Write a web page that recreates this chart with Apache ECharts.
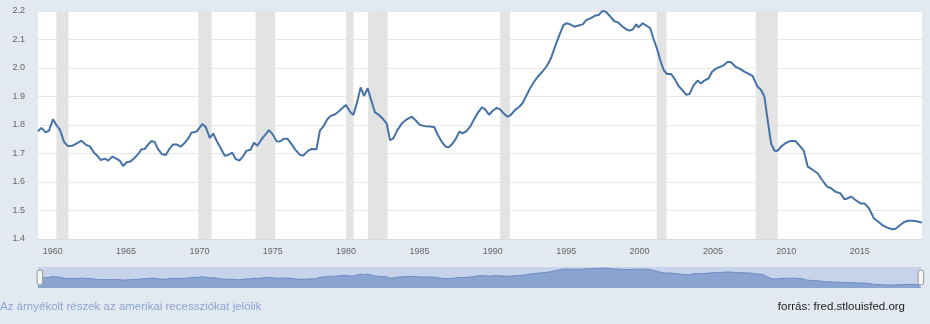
<!DOCTYPE html>
<html>
<head>
<meta charset="utf-8">
<script src="https://cdn.jsdelivr.net/npm/echarts@6/dist/echarts.min.js"></script>
<style>
html,body{margin:0;padding:0;background:#e2e9f1;}
#c{width:930px;height:324px;}
</style>
</head>
<body>
<div id="c"></div>
<script>
// ---- data ----
const years = [
1959.00,1959.23,1959.52,1959.75,1960.02,1960.25,1960.48,1960.78,1961.04,1961.34,1961.61,1961.96,
1962.09,1962.29,1962.52,1962.82,1963.05,1963.28,1963.55,1963.78,1964.07,1964.34,1964.57,1964.80,
1965.03,1965.30,1965.59,1965.82,1966.05,1966.28,1966.51,1966.74,1966.96,1967.18,1967.45,1967.71,
1967.94,1968.21,1968.44,1968.71,1969.01,1969.24,1969.46,1969.81,1970.19,1970.42,1970.71,1970.94,
1971.17,1971.40,1971.73,1971.96,1972.24,1972.47,1972.72,1972.99,1973.21,1973.49,1973.72,1973.95,
1974.24,1974.51,1974.74,1974.99,1975.26,1975.49,1975.77,1976.00,1976.28,1976.56,1976.86,1977.08,
1977.42,1977.64,1977.98,1978.21,1978.44,1978.72,1978.95,1979.23,1979.53,1979.81,1979.99,1980.26,
1980.49,1980.76,1980.99,1981.22,1981.47,1981.70,1981.97,1982.24,1982.53,1982.76,1982.99,1983.22,
1983.49,1983.78,1984.08,1984.47,1984.77,1985.03,1985.38,1985.72,1986.02,1986.25,1986.51,1986.78,
1987.01,1987.27,1987.49,1987.72,1987.95,1988.22,1988.45,1988.67,1988.95,1989.25,1989.48,1989.74,
1989.99,1990.27,1990.50,1990.73,1991.00,1991.22,1991.52,1991.81,1992.04,1992.27,1992.54,1992.81,
1993.11,1993.41,1993.68,1993.96,1994.24,1994.54,1994.82,1995.04,1995.27,1995.55,1995.84,1996.13,
1996.36,1996.64,1996.98,1997.21,1997.43,1997.59,1997.77,1998.05,1998.28,1998.50,1998.80,1999.09,
1999.32,1999.55,1999.77,1999.93,2000.21,2000.46,2000.73,2000.96,2001.18,2001.41,2001.64,2001.87,
2002.14,2002.37,2002.66,2002.96,2003.19,2003.41,2003.69,2003.96,2004.19,2004.41,2004.71,2004.94,
2005.16,2005.39,2005.69,2006.01,2006.23,2006.53,2006.87,2007.14,2007.44,2007.71,2008.01,2008.28,
2008.51,2008.73,2008.96,2009.19,2009.42,2009.64,2009.94,2010.28,2010.62,2010.92,2011.19,2011.46,
2011.76,2012.15,2012.44,2012.78,2013.06,2013.35,2013.69,2013.97,2014.19,2014.42,2014.72,2015.06,
2015.33,2015.63,2015.97,2016.31,2016.60,2016.88,2017.22,2017.45,2017.74,2018.01,2018.29,2018.58,
2018.88,2019.15,2019.25
];
const values = [
1.778,1.790,1.774,1.780,1.820,1.800,1.785,1.740,1.726,1.727,1.735,1.745,
1.745,1.730,1.726,1.703,1.692,1.677,1.682,1.675,1.689,1.682,1.675,1.656,
1.669,1.672,1.685,1.698,1.715,1.716,1.732,1.744,1.740,1.715,1.698,1.695,
1.715,1.732,1.732,1.724,1.738,1.753,1.773,1.777,1.803,1.794,1.755,1.770,
1.745,1.724,1.692,1.695,1.703,1.681,1.675,1.691,1.710,1.713,1.738,1.727,
1.750,1.767,1.782,1.768,1.743,1.742,1.752,1.752,1.733,1.712,1.695,1.693,
1.710,1.716,1.715,1.780,1.794,1.820,1.832,1.837,1.849,1.862,1.870,1.847,
1.835,1.882,1.932,1.902,1.929,1.888,1.844,1.835,1.820,1.806,1.747,1.753,
1.782,1.804,1.818,1.829,1.815,1.800,1.796,1.795,1.792,1.765,1.742,1.724,
1.722,1.736,1.753,1.777,1.771,1.779,1.794,1.815,1.841,1.862,1.855,1.836,
1.850,1.860,1.855,1.841,1.829,1.835,1.853,1.864,1.878,1.902,1.929,1.952,
1.972,1.989,2.007,2.034,2.075,2.116,2.151,2.157,2.153,2.145,2.149,2.153,
2.168,2.174,2.184,2.186,2.198,2.200,2.194,2.178,2.164,2.161,2.147,2.136,
2.131,2.136,2.153,2.143,2.157,2.149,2.139,2.101,2.069,2.028,1.993,1.979,
1.979,1.964,1.937,1.920,1.906,1.909,1.940,1.956,1.946,1.956,1.964,1.987,
1.996,2.002,2.008,2.022,2.020,2.005,1.996,1.987,1.979,1.972,1.937,1.923,
1.899,1.818,1.736,1.710,1.710,1.724,1.736,1.744,1.744,1.727,1.710,1.654,
1.644,1.630,1.607,1.584,1.578,1.566,1.560,1.539,1.543,1.549,1.537,1.525,
1.525,1.508,1.473,1.459,1.447,1.440,1.434,1.436,1.448,1.459,1.464,1.464,
1.462,1.459,1.458
];
const recessionStart = [1960.25,1969.92,1973.83,1980.00,1981.50,1990.50,2001.17,2007.92];
const recessionEnd   = [1961.08,1970.83,1975.17,1980.50,1982.83,1991.17,2001.83,2009.42];
const xTicks = [1960,1965,1970,1975,1980,1985,1990,1995,2000,2005,2010,2015];
const yTicks = [1.4,1.5,1.6,1.7,1.8,1.9,2.0,2.1,2.2];
const noteText = 'Az árnyékolt részek az amerikai recessziókat jelölik';
const sourceText = 'forrás: fred.stlouisfed.org';

// ---- chart ----
const seriesData = years.map((y, i) => [y, values[i]]);
const recAreas = recessionStart.map((s, i) => [{xAxis: s}, {xAxis: recessionEnd[i]}]);
const FONT = '"Liberation Sans", Arial, sans-serif';

const chart = echarts.init(document.getElementById('c'), null, {renderer: 'canvas'});
chart.setOption({
  animation: false,
  backgroundColor: '#e2e9f1',
  textStyle: {fontFamily: FONT},
  title: [
    {text: noteText, left: 0, top: 301, padding: 0,
     textStyle: {fontSize: 11.5, fontWeight: 'normal', color: '#8da3d1', fontFamily: FONT}},
    {text: sourceText, right: 25, top: 301, padding: 0,
     textStyle: {fontSize: 11.5, fontWeight: 'normal', color: '#222222', fontFamily: FONT}}
  ],
  grid: [
    {left: 38, right: 8, top: 11, bottom: 85, show: true, backgroundColor: '#ffffff', borderWidth: 0},
    {left: 38, right: 9, top: 267, height: 21, show: true, backgroundColor: '#c6d3eb', borderWidth: 0}
  ],
  xAxis: [
    {type: 'value', gridIndex: 0, min: years[0], max: years[years.length - 1],
     splitLine: {show: false},
     axisTick: {show: false},
     axisLine: {show: true, lineStyle: {color: '#d5dce8', width: 1}},
     axisLabel: {customValues: xTicks, color: '#666666', fontSize: 9, margin: 8,
                 formatter: v => String(v)}},
    {type: 'value', gridIndex: 1, min: years[0], max: years[years.length - 1], show: false}
  ],
  yAxis: [
    {type: 'value', gridIndex: 0, min: yTicks[0], max: yTicks[yTicks.length - 1], interval: 0.1,
     axisLine: {show: false}, axisTick: {show: false},
     splitLine: {show: true, lineStyle: {color: '#e8e8e8', width: 1}},
     axisLabel: {color: '#666666', fontSize: 9, margin: 13, formatter: v => v.toFixed(1)}},
    {type: 'value', gridIndex: 1, min: 1.3, max: 2.25, show: false}
  ],
  dataZoom: [{
    type: 'slider', xAxisIndex: 0, filterMode: 'none',
    left: 38, right: 9, top: 267, height: 21,
    start: 0, end: 100,
    showDataShadow: false, showDetail: false, brushSelect: false,
    moveHandleSize: 0,
    backgroundColor: 'rgba(0,0,0,0)',
    fillerColor: 'rgba(0,0,0,0)',
    borderColor: 'rgba(0,0,0,0)',
    handleIcon: 'path://M2,0 h2 a2,2 0 0 1 2,2 v12 a2,2 0 0 1 -2,2 h-2 a2,2 0 0 1 -2,-2 v-12 a2,2 0 0 1 2,-2 z',
    handleSize: '70%',
    handleStyle: {color: '#f4f4f4', borderColor: '#9a9a9a', borderWidth: 1},
    emphasis: {handleStyle: {color: '#f4f4f4', borderColor: '#9a9a9a'}}
  }],
  series: [
    {type: 'line', name: 'rec', xAxisIndex: 0, yAxisIndex: 0, z: 1, silent: true,
     data: seriesData, showSymbol: false, symbol: 'none',
     lineStyle: {width: 0, opacity: 0},
     markArea: {silent: true, itemStyle: {color: '#e3e3e3'}, data: recAreas}},
    {type: 'line', name: 'value', xAxisIndex: 0, yAxisIndex: 0, z: 3,
     data: seriesData, showSymbol: false, symbol: 'none',
     lineStyle: {color: '#4572a7', width: 2}},
    {type: 'line', name: 'nav', xAxisIndex: 1, yAxisIndex: 1, z: 2, silent: true,
     data: seriesData, showSymbol: false, symbol: 'none',
     lineStyle: {color: '#6f8dc2', width: 1},
     areaStyle: {color: '#8aa4d2', opacity: 1}}
  ]
});
</script>
</body>
</html>
